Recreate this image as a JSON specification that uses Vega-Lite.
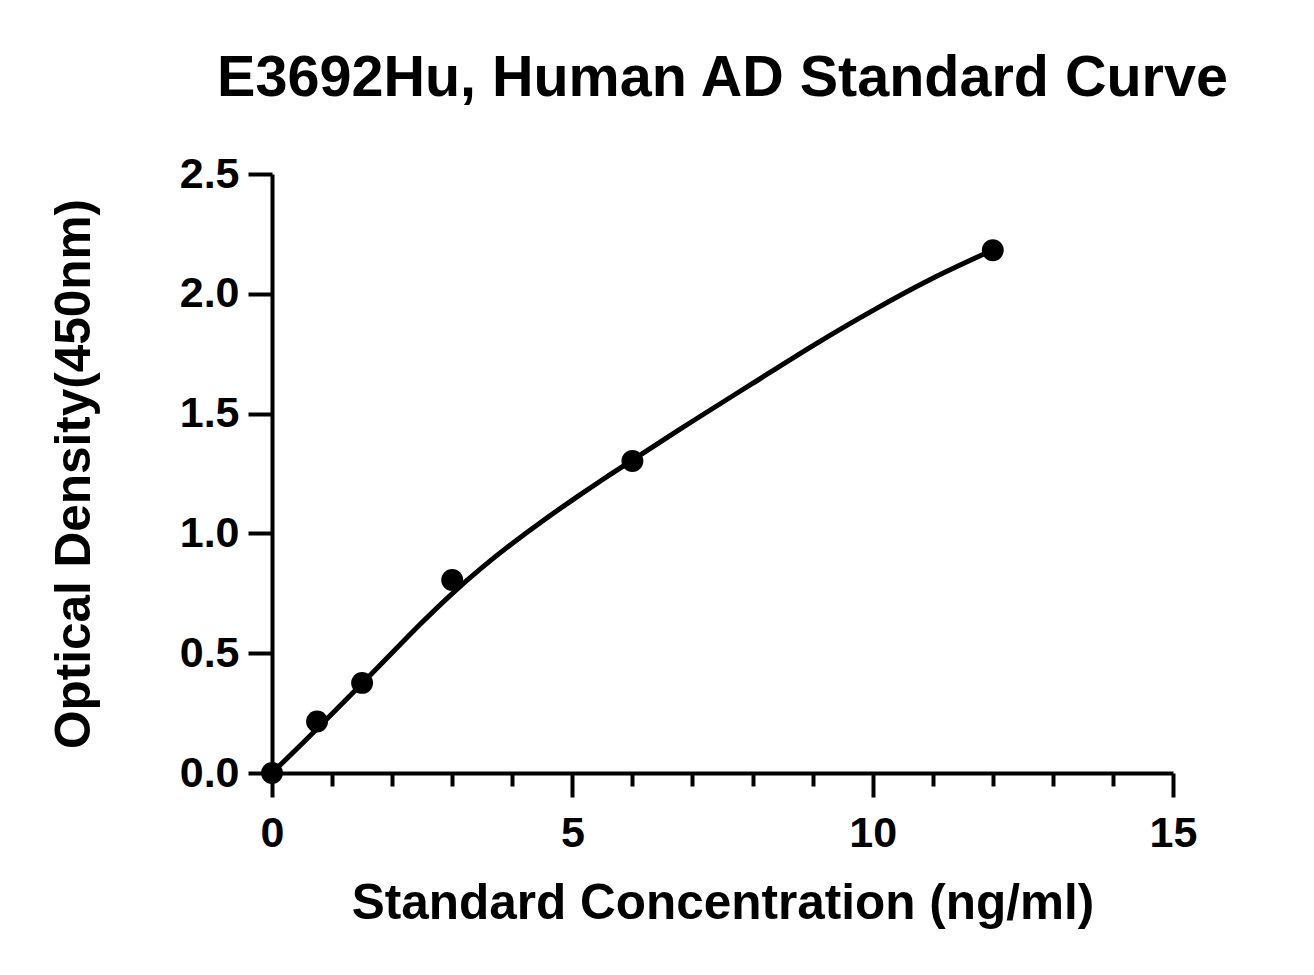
{
  "$schema": "https://vega.github.io/schema/vega-lite/v6.json",
  "autosize": {"type": "none"},
  "width": 901,
  "height": 599,
  "padding": {"left": 272, "top": 174, "right": 141, "bottom": 202},
  "background": "white",
  "title": {
    "text": "E3692Hu, Human AD Standard Curve",
    "font": "Liberation Sans",
    "fontSize": 57.5,
    "fontWeight": "bold",
    "color": "black",
    "anchor": "middle",
    "frame": "group",
    "offset": 45
  },
  "datasets": {
    "points": [
      {"conc": 0, "od": 0.0},
      {"conc": 0.75, "od": 0.215},
      {"conc": 1.5, "od": 0.376},
      {"conc": 3, "od": 0.806},
      {"conc": 6, "od": 1.302},
      {"conc": 12, "od": 2.182}
    ],
    "curve": [
      {"conc": 0, "od": 0.0},
      {"conc": 0.5, "od": 0.122},
      {"conc": 1, "od": 0.247},
      {"conc": 1.5, "od": 0.374},
      {"conc": 2, "od": 0.502},
      {"conc": 2.5, "od": 0.629},
      {"conc": 3, "od": 0.749},
      {"conc": 3.5, "od": 0.858},
      {"conc": 4, "od": 0.958},
      {"conc": 4.5, "od": 1.051},
      {"conc": 5, "od": 1.139},
      {"conc": 5.5, "od": 1.224},
      {"conc": 6, "od": 1.306},
      {"conc": 7, "od": 1.468},
      {"conc": 8, "od": 1.626},
      {"conc": 9, "od": 1.783},
      {"conc": 10, "od": 1.93},
      {"conc": 11, "od": 2.065},
      {"conc": 12, "od": 2.183}
    ]
  },
  "encoding": {
    "x": {
      "field": "conc",
      "type": "quantitative",
      "scale": {"domain": [0, 15], "nice": false, "zero": true},
      "axis": {
        "title": "Standard Concentration (ng/ml)",
        "values": [0, 1, 2, 3, 4, 5, 6, 7, 8, 9, 10, 11, 12, 13, 14, 15],
        "labelExpr": "datum.value % 5 === 0 ? datum.label : ''",
        "tickSize": {"condition": {"test": "datum.value % 5 !== 0", "value": 13}, "value": 24},
        "labelPadding": 15,
        "titlePadding": 24,
        "labelFlush": false,
        "labelOverlap": false
      }
    },
    "y": {
      "field": "od",
      "type": "quantitative",
      "scale": {"domain": [0, 2.5], "nice": false},
      "axis": {
        "title": "Optical Density(450nm)",
        "values": [0, 0.5, 1, 1.5, 2, 2.5],
        "format": ".1f",
        "tickSize": 24,
        "labelPadding": 9,
        "titlePadding": 80,
        "labelFlush": false
      }
    }
  },
  "layer": [
    {
      "data": {"name": "curve"},
      "mark": {"type": "line", "color": "black", "strokeWidth": 5, "interpolate": "natural"}
    },
    {
      "data": {"name": "points"},
      "mark": {"type": "circle", "color": "black", "opacity": 1, "size": 480}
    }
  ],
  "config": {
    "view": {"stroke": null},
    "axis": {
      "grid": false,
      "domainColor": "black",
      "domainWidth": 4,
      "tickColor": "black",
      "tickWidth": 4,
      "labelFont": "Liberation Sans",
      "labelFontWeight": "bold",
      "labelFontSize": 43,
      "labelColor": "black",
      "titleFont": "Liberation Sans",
      "titleFontWeight": "bold",
      "titleFontSize": 49.5,
      "titleColor": "black"
    }
  }
}
